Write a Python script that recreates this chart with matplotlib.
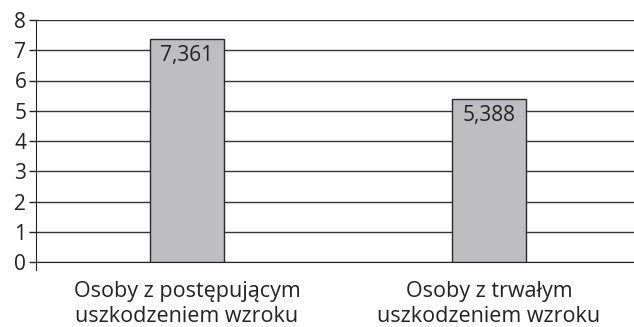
import matplotlib
matplotlib.use("Agg")
import matplotlib.pyplot as plt

plt.rcParams['font.family'] = ['Open Sans', 'DejaVu Sans']

kategorie = ["Osoby z postępującym\nuszkodzeniem wzroku", "Osoby z trwałym\nuszkodzeniem wzroku"]
wartosci = [7.361, 5.388]
etykiety = ["7,361", "5,388"]
os_y = [0, 1, 2, 3, 4, 5, 6, 7, 8]

fig = plt.figure(figsize=(6.34, 3.27), dpi=100)
ax = fig.add_axes([36 / 634, 65 / 327, 604 / 634, 242 / 327])

x = range(len(kategorie))
ax.set_axisbelow(True)
ax.yaxis.grid(True, color="#333333", linewidth=1.0)
slupki = ax.bar(x, wartosci, width=0.245, color="#bebec2", edgecolor="#2a2a2a", linewidth=1.0, zorder=3)

for s, tekst in zip(slupki, etykiety):
    ax.annotate(tekst, (s.get_x() + s.get_width() / 2, s.get_height()),
                xytext=(0, -4), textcoords="offset points",
                ha="center", va="top", fontsize=15, color="#222222", zorder=4)

ax.set_xlim(-0.5, 1.5)
ax.set_ylim(0, 8)
ax.set_yticks(os_y)
ax.set_xticks(list(x))
ax.set_xticklabels(kategorie, fontsize=15.5, color="#222222", linespacing=1.2)
ax.tick_params(axis="x", length=0, pad=14)
ax.tick_params(axis="y", length=5, width=1, color="#222222", labelsize=15, labelcolor="#222222", pad=2)

for side in ["top", "right"]:
    ax.spines[side].set_visible(False)
ax.spines["left"].set_color("#222222")
ax.spines["bottom"].set_color("#222222")
ax.spines["left"].set_bounds(-0.25, 8)
ax.spines["left"].set_position(("data", -0.5))

fig.savefig("out.png", dpi=100)
